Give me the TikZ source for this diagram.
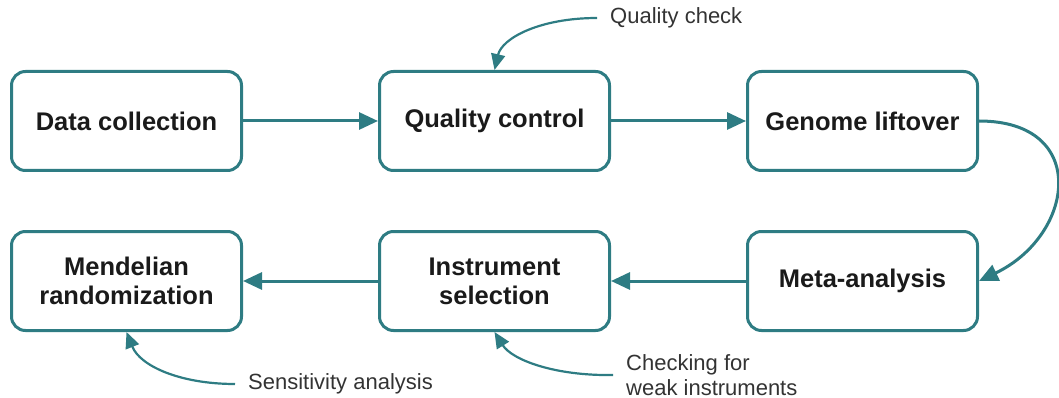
\documentclass[tikz,border=0pt]{standalone}
\usepackage{fontspec}
\setmainfont{Liberation Sans}
\usetikzlibrary{arrows.meta,calc}
\definecolor{teal1}{HTML}{2E7C83}
\definecolor{txt}{HTML}{1A1A1A}
\definecolor{lbl}{HTML}{333333}
\begin{document}
\begin{tikzpicture}[x=1pt,y=-1pt,
  stepbox/.style={draw=teal1,line width=3pt,rounded corners=14pt,fill=white,
    minimum width=230pt,minimum height=99pt,align=center,text=txt,
    font=\fontsize{25.5}{29}\selectfont\bfseries,inner sep=0pt},
  flow/.style={draw=teal1,line width=3pt,-{Triangle[length=19pt,width=17pt]}},
  note/.style={draw=teal1,line width=2.2pt,-{Triangle[length=16pt,width=14pt]}},
  lab/.style={anchor=west,text=lbl,align=left,font=\fontsize{22}{25}\selectfont,inner ysep=2pt,inner xsep=13pt}]
\useasboundingbox (0,0) rectangle (1059,398);
\node[stepbox] (dc) at (126.5,121) {Data collection};
\node[stepbox] (qc) at (494.5,121) {Quality control};
\node[stepbox] (gl) at (862.5,121) {Genome liftover};
\node[stepbox] (mr) at (126.5,281) {Mendelian\\randomization};
\node[stepbox] (is) at (494.5,281) {Instrument\\selection};
\node[stepbox] (ma) at (862.5,281) {Meta-analysis};
\draw[flow] (dc.east) -- (qc.west);
\draw[flow] (qc.east) -- (gl.west);
\draw[flow] (ma.west) -- (is.west -| is.east);
\draw[flow] (is.west) -- (mr.east);
\draw[flow] (gl.east) .. controls (1090,121) and (1075,235) .. (ma.east);
\node[lab] (qcl) at (597,18) {Quality check};
\node[lab] (sal) at (235,384) {Sensitivity analysis};
\node[lab] (cwl) at (613,375) {Checking for\\weak instruments};
\draw[note] (qcl.west) .. controls (540,18) and (502,38) .. (qc.north);
\draw[note] (sal.west) .. controls (180,384) and (140,366) .. (mr.south);
\draw[note] (cwl.west) .. controls (555,376) and (512,360) .. (is.south);
\end{tikzpicture}
\end{document}
